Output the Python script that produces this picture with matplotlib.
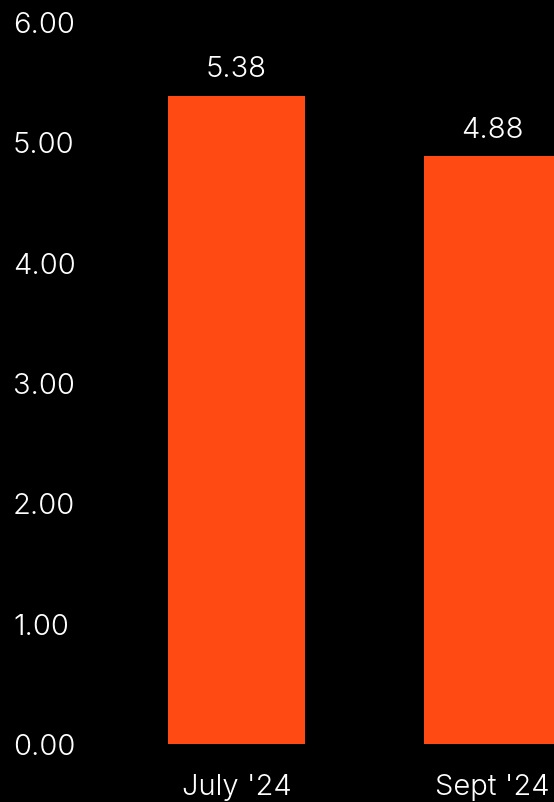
import matplotlib
matplotlib.use("Agg")
import matplotlib.pyplot as plt

# === DATA ===
periods = ["July '24", "Sept '24"]
values = [5.38, 4.88]
y_ticks = [0, 1, 2, 3, 4, 5, 6]

BAR_COLOR = "#FF4A14"
TEXT_COLOR = "#FFFFFF"
plt.rcParams["font.family"] = ["Inter", "DejaVu Sans"]
plt.rcParams["font.weight"] = 300

W, H, DPI = 554, 803, 100
fig = plt.figure(figsize=(W / DPI, H / DPI), dpi=DPI, facecolor="black")

# axes fills the width; 0 sits at y=745px, 6 at y=22px
ax = fig.add_axes([0, 58 / H, 1, (745 - 22) / H])
ax.set_facecolor("black")

x = list(range(len(periods)))
bars = ax.bar(x, values, width=0.535, color=BAR_COLOR)

# one category step is 256 px, first bar centred at 236.5 px
step = 256.0
ax.set_xlim(-236.5 / step, (W - 236.5) / step)
ax.set_ylim(0, 6)

for b, v in zip(bars, values):
    ax.annotate(f"{v:.2f}", (b.get_x() + b.get_width() / 2, v),
                xytext=(0, 14), textcoords="offset points",
                ha="center", va="baseline", color=TEXT_COLOR, fontsize=21)

ax.set_yticks(y_ticks)
ax.set_yticklabels([f"{t:.2f}" for t in y_ticks])
ax.tick_params(axis="y", length=0, pad=-9.4, colors=TEXT_COLOR, labelsize=21)
for lbl in ax.get_yticklabels():
    lbl.set_horizontalalignment("left")

ax.set_xticks(x)
ax.set_xticklabels(periods)
ax.tick_params(axis="x", length=0, pad=21, colors=TEXT_COLOR, labelsize=21)

for s in ax.spines.values():
    s.set_visible(False)

fig.savefig("out.png", dpi=DPI, facecolor="black")
